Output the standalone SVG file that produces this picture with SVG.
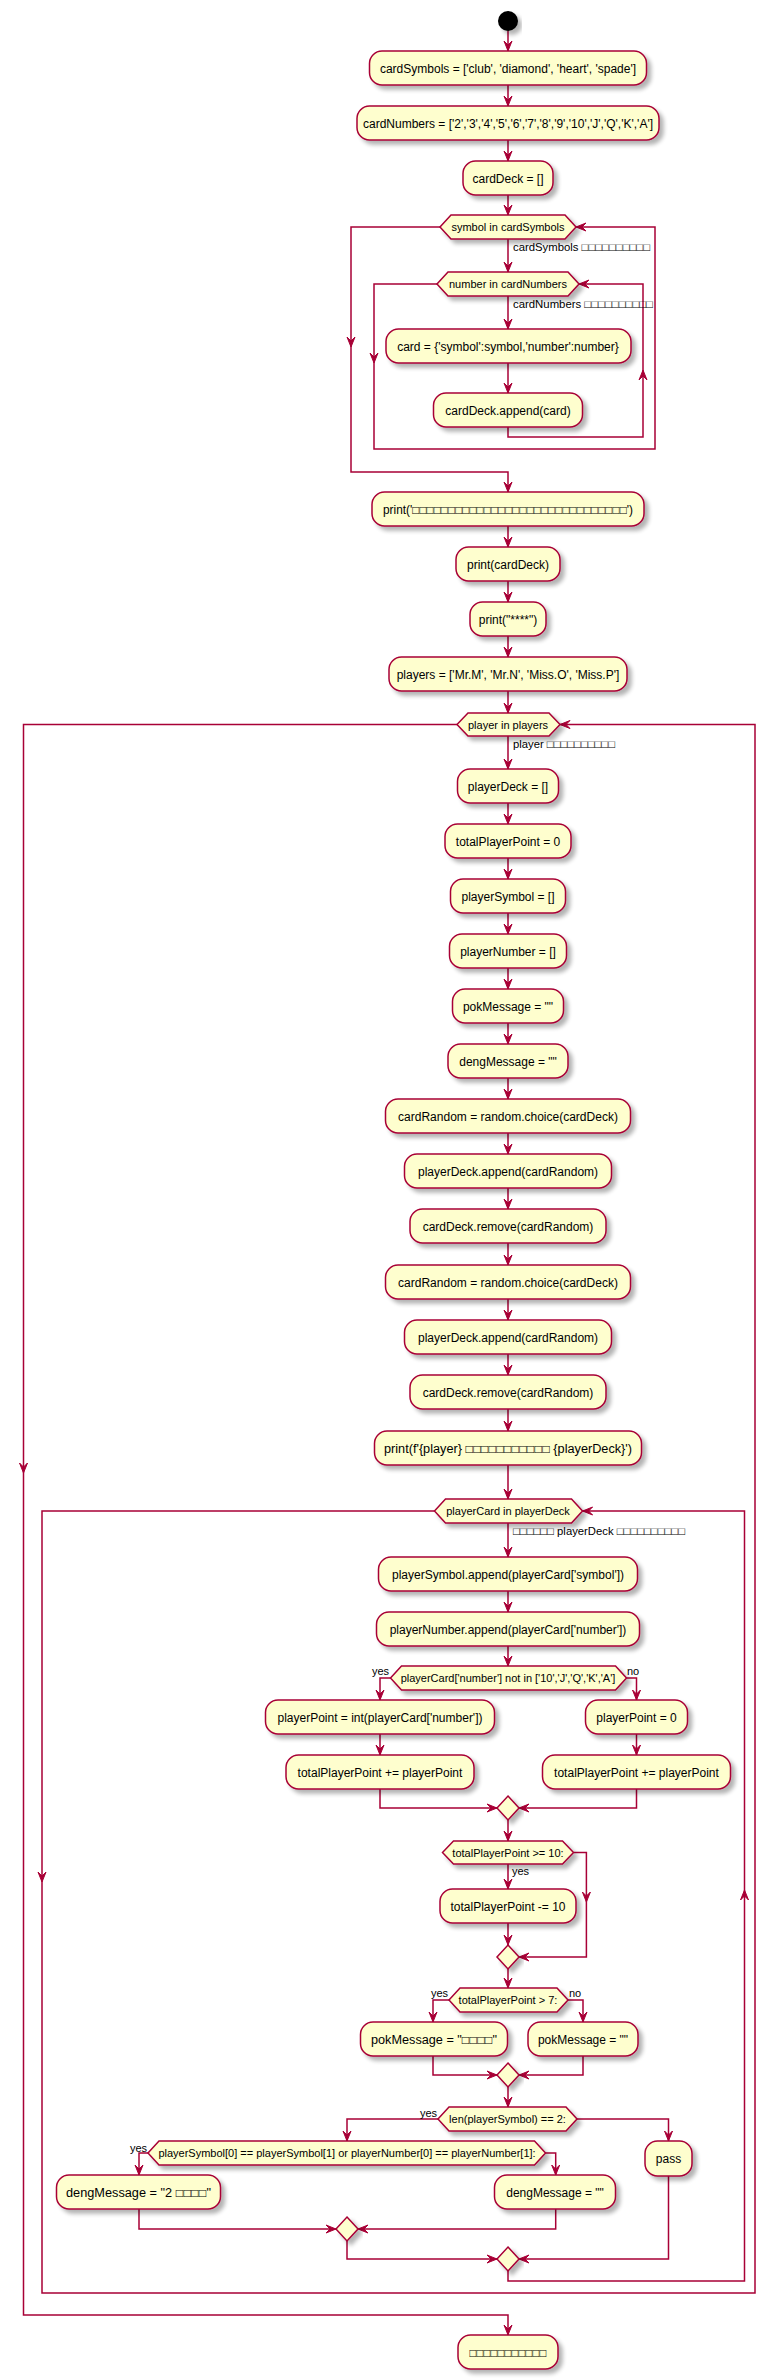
<svg xmlns="http://www.w3.org/2000/svg" xmlns:xlink="http://www.w3.org/1999/xlink" width="769" height="2380" viewBox="0 0 769 2380">
<style>
.b{fill:#FEFECE;stroke:#A80036;stroke-width:1.5;filter:url(#sh)}
.t{font-family:"Liberation Sans",Arial,"DejaVu Sans",sans-serif;font-size:12px;fill:#000;text-anchor:middle}
.h{font-family:"Liberation Sans",Arial,"DejaVu Sans",sans-serif;font-size:11px;fill:#000;text-anchor:middle}
.l{font-family:"Liberation Sans",Arial,"DejaVu Sans",sans-serif;font-size:11px;fill:#000}
.e{text-anchor:end}
.c{fill:none;stroke:#A80036;stroke-width:1.5}
.m{marker-end:url(#a)}
</style>
<defs>
<filter id="sh" x="-10%" y="-20%" width="130%" height="170%">
<feGaussianBlur in="SourceAlpha" stdDeviation="2"/>
<feOffset dx="4" dy="4"/>
<feComponentTransfer><feFuncA type="linear" slope="0.3"/></feComponentTransfer>
<feMerge><feMergeNode/><feMergeNode in="SourceGraphic"/></feMerge>
</filter>
<marker id="a" viewBox="-11 -6 12 12" refX="0" refY="0" markerWidth="12" markerHeight="12" markerUnits="userSpaceOnUse" orient="auto" overflow="visible">
<path d="M0,0 L-10,-4 L-6,0 L-10,4 Z" fill="#A80036" stroke="#A80036" stroke-width="1"/>
</marker>
</defs>
<rect width="769" height="2380" fill="#FFFFFF"/>

<g id="connectors">
<path class="c m" d="M508,31 V51"/>
<path class="c m" d="M508,85 V106"/>
<path class="c m" d="M508,140 V161"/>
<path class="c m" d="M508,195 V215"/>
<path class="c m" d="M508,239 V272"/>
<path class="c m" d="M508,296 V329"/>
<path class="c m" d="M508,363 V393"/>
<path class="c m" d="M508,427 V437 H643 V370"/>
<path class="c m" d="M643,370 V284 H579"/>
<path class="c m" d="M437,284 H374 V363"/>
<path class="c m" d="M374,363 V449 H655 V227 H576"/>
<path class="c m" d="M440,227 H351 V347"/>
<path class="c m" d="M351,347 V472 H508 V492"/>
<path class="c m" d="M508,526 V547"/>
<path class="c m" d="M508,581 V602"/>
<path class="c m" d="M508,636 V657"/>
<path class="c m" d="M508,691 V713"/>
<path class="c m" d="M508,736 V769"/>
<path class="c m" d="M508,803 V824"/>
<path class="c m" d="M508,858 V879"/>
<path class="c m" d="M508,913 V934"/>
<path class="c m" d="M508,968 V989"/>
<path class="c m" d="M508,1023 V1044"/>
<path class="c m" d="M508,1078 V1099"/>
<path class="c m" d="M508,1133 V1154"/>
<path class="c m" d="M508,1188 V1209"/>
<path class="c m" d="M508,1243 V1265"/>
<path class="c m" d="M508,1299 V1320"/>
<path class="c m" d="M508,1354 V1375"/>
<path class="c m" d="M508,1409 V1431"/>
<path class="c m" d="M508,1465 V1499"/>
<path class="c m" d="M508,1523 V1557"/>
<path class="c m" d="M508,1591 V1612"/>
<path class="c m" d="M508,1646 V1666"/>
<path class="c m" d="M390.5,1678 H380 V1700"/>
<path class="c m" d="M626.3,1678 H636.5 V1700"/>
<path class="c m" d="M380,1734 V1755"/>
<path class="c m" d="M636.5,1734 V1755"/>
<path class="c m" d="M380,1789 V1808 H497"/>
<path class="c m" d="M636.5,1789 V1808 H519"/>
<path class="c m" d="M508,1820 V1841"/>
<path class="c m" d="M508,1864 V1889"/>
<path class="c m" d="M573.7,1852.5 H586.4 V1902"/>
<path class="c m" d="M586.4,1902 V1957 H519"/>
<path class="c m" d="M508,1923 V1945"/>
<path class="c m" d="M508,1969 V1988"/>
<path class="c m" d="M449,2000 H433 V2022"/>
<path class="c m" d="M568,2000 H583 V2022"/>
<path class="c m" d="M433,2056 V2075 H497"/>
<path class="c m" d="M583,2056 V2075 H519"/>
<path class="c m" d="M508,2087 V2107"/>
<path class="c m" d="M438,2119 H347 V2141"/>
<path class="c m" d="M577,2119 H668.5 V2141"/>
<path class="c m" d="M148,2153 H139 V2175"/>
<path class="c m" d="M545.4,2153 H555.7 V2175"/>
<path class="c m" d="M139,2209 V2229 H336"/>
<path class="c m" d="M555.7,2209 V2229 H358"/>
<path class="c m" d="M347,2241 V2259 H497"/>
<path class="c m" d="M668.5,2176 V2259 H519"/>
<path class="c m" d="M508,2271 V2281 H744.5 V1890"/>
<path class="c m" d="M744.5,1890 V1511 H582.6"/>
<path class="c m" d="M434.5,1511 H42 V1882"/>
<path class="c m" d="M42,1882 V2293 H755 V724.5 H560"/>
<path class="c m" d="M457,724.5 H23.5 V1473"/>
<path class="c m" d="M23.5,1473 V2315 H508 V2335"/>
</g>

<g id="labels">
<text class="l" x="513" y="251" textLength="137" lengthAdjust="spacingAndGlyphs">cardSymbols □□□□□□□□□□</text>
<text class="l" x="513" y="308" textLength="140" lengthAdjust="spacingAndGlyphs">cardNumbers □□□□□□□□□□</text>
<text class="l" x="513" y="748" textLength="102" lengthAdjust="spacingAndGlyphs">player □□□□□□□□□□</text>
<text class="l" x="513" y="1535" textLength="172" lengthAdjust="spacingAndGlyphs">□□□□□□ playerDeck □□□□□□□□□□</text>
<text class="l e" x="389" y="1675">yes</text>
<text class="l" x="627" y="1675">no</text>
<text class="l" x="512" y="1875">yes</text>
<text class="l e" x="448" y="1997">yes</text>
<text class="l" x="569" y="1997">no</text>
<text class="l e" x="437" y="2117">yes</text>
<text class="l e" x="147" y="2152">yes</text>
</g>

<g id="start"><circle cx="508" cy="21" r="10" fill="#000" filter="url(#sh)"/></g>

<g id="n1"><rect class="b" x="369.5" y="51" width="277" height="34" rx="12.5"/><text class="t" x="508" y="73">cardSymbols = ['club', 'diamond', 'heart', 'spade']</text></g>
<g id="n2"><rect class="b" x="357" y="106" width="302" height="34" rx="12.5"/><text class="t" x="508" y="128">cardNumbers = ['2','3','4','5','6','7','8','9','10','J','Q','K','A']</text></g>
<g id="n3"><rect class="b" x="463" y="161" width="90" height="34" rx="12.5"/><text class="t" x="508" y="183">cardDeck = []</text></g>
<g id="loop1"><polygon class="b" points="440,227 451,215 565,215 576,227 565,239 451,239"/><text class="h" x="508" y="231">symbol in cardSymbols</text></g>
<g id="loop2"><polygon class="b" points="437,284 448,272 568,272 579,284 568,296 448,296"/><text class="h" x="508" y="288">number in cardNumbers</text></g>
<g id="n4"><rect class="b" x="386" y="329" width="245" height="34" rx="12.5"/><text class="t" x="508" y="351">card = {'symbol':symbol,'number':number}</text></g>
<g id="n5"><rect class="b" x="433.5" y="393" width="149" height="34" rx="12.5"/><text class="t" x="508" y="415">cardDeck.append(card)</text></g>
<g id="n6"><rect class="b" x="372" y="492" width="272" height="34" rx="12.5"/><text class="t" x="508" y="514" textLength="250" lengthAdjust="spacingAndGlyphs">print('□□□□□□□□□□□□□□□□□□□□□□□□□□□□□□')</text></g>
<g id="n7"><rect class="b" x="456" y="547" width="104" height="34" rx="12.5"/><text class="t" x="508" y="569">print(cardDeck)</text></g>
<g id="n8"><rect class="b" x="470" y="602" width="76" height="34" rx="12.5"/><text class="t" x="508" y="624">print("****")</text></g>
<g id="n9"><rect class="b" x="389" y="657" width="238" height="34" rx="12.5"/><text class="t" x="508" y="679">players = ['Mr.M', 'Mr.N', 'Miss.O', 'Miss.P']</text></g>
<g id="loop3"><polygon class="b" points="457,724.5 468,713 549,713 560,724.5 549,736 468,736"/><text class="h" x="508" y="728.5">player in players</text></g>
<g id="n10"><rect class="b" x="457.5" y="769" width="101" height="34" rx="12.5"/><text class="t" x="508" y="791">playerDeck = []</text></g>
<g id="n11"><rect class="b" x="445" y="824" width="126" height="34" rx="12.5"/><text class="t" x="508" y="846">totalPlayerPoint = 0</text></g>
<g id="n12"><rect class="b" x="450.5" y="879" width="115" height="34" rx="12.5"/><text class="t" x="508" y="901">playerSymbol = []</text></g>
<g id="n13"><rect class="b" x="449.5" y="934" width="117" height="34" rx="12.5"/><text class="t" x="508" y="956">playerNumber = []</text></g>
<g id="n14"><rect class="b" x="452.5" y="989" width="111" height="34" rx="12.5"/><text class="t" x="508" y="1011">pokMessage = ""</text></g>
<g id="n15"><rect class="b" x="448" y="1044" width="120" height="34" rx="12.5"/><text class="t" x="508" y="1066">dengMessage = ""</text></g>
<g id="n16"><rect class="b" x="385.5" y="1099" width="245" height="34" rx="12.5"/><text class="t" x="508" y="1121">cardRandom = random.choice(cardDeck)</text></g>
<g id="n17"><rect class="b" x="404.5" y="1154" width="207" height="34" rx="12.5"/><text class="t" x="508" y="1176">playerDeck.append(cardRandom)</text></g>
<g id="n18"><rect class="b" x="410" y="1209" width="196" height="34" rx="12.5"/><text class="t" x="508" y="1231">cardDeck.remove(cardRandom)</text></g>
<g id="n19"><rect class="b" x="385.5" y="1265" width="245" height="34" rx="12.5"/><text class="t" x="508" y="1287">cardRandom = random.choice(cardDeck)</text></g>
<g id="n20"><rect class="b" x="404.5" y="1320" width="207" height="34" rx="12.5"/><text class="t" x="508" y="1342">playerDeck.append(cardRandom)</text></g>
<g id="n21"><rect class="b" x="410" y="1375" width="196" height="34" rx="12.5"/><text class="t" x="508" y="1397">cardDeck.remove(cardRandom)</text></g>
<g id="n22"><rect class="b" x="374.5" y="1431" width="267" height="34" rx="12.5"/><text class="t" x="508" y="1453" textLength="248" lengthAdjust="spacingAndGlyphs">print(f'{player} □□□□□□□□□□□ {playerDeck}')</text></g>
<g id="loop4"><polygon class="b" points="434.5,1511 445.5,1499 571.5,1499 582.5,1511 571.5,1523 445.5,1523"/><text class="h" x="508" y="1515">playerCard in playerDeck</text></g>
<g id="n23"><rect class="b" x="378.5" y="1557" width="259" height="34" rx="12.5"/><text class="t" x="508" y="1579">playerSymbol.append(playerCard['symbol'])</text></g>
<g id="n24"><rect class="b" x="376.5" y="1612" width="263" height="34" rx="12.5"/><text class="t" x="508" y="1634">playerNumber.append(playerCard['number'])</text></g>
<g id="if1"><polygon class="b" points="390.5,1678 401.5,1666 615.5,1666 626.5,1678 615.5,1690 401.5,1690"/><text class="h" x="508" y="1682">playerCard['number'] not in ['10','J','Q','K','A']</text></g>
<g id="n25"><rect class="b" x="265.5" y="1700" width="229" height="34" rx="12.5"/><text class="t" x="380" y="1722">playerPoint = int(playerCard['number'])</text></g>
<g id="n26"><rect class="b" x="585.5" y="1700" width="102" height="34" rx="12.5"/><text class="t" x="636.5" y="1722">playerPoint = 0</text></g>
<g id="n27"><rect class="b" x="286" y="1755" width="188" height="34" rx="12.5"/><text class="t" x="380" y="1777">totalPlayerPoint += playerPoint</text></g>
<g id="n28"><rect class="b" x="542.5" y="1755" width="188" height="34" rx="12.5"/><text class="t" x="636.5" y="1777">totalPlayerPoint += playerPoint</text></g>
<g id="merge1"><polygon class="b" points="508,1796 519,1808 508,1820 497,1808"/></g>
<g id="if2"><polygon class="b" points="442.5,1852.5 453.5,1841 562.5,1841 573.5,1852.5 562.5,1864 453.5,1864"/><text class="h" x="508" y="1856.5">totalPlayerPoint &gt;= 10:</text></g>
<g id="n29"><rect class="b" x="440" y="1889" width="136" height="34" rx="12.5"/><text class="t" x="508" y="1911">totalPlayerPoint -= 10</text></g>
<g id="merge2"><polygon class="b" points="508,1945 519,1957 508,1969 497,1957"/></g>
<g id="if3"><polygon class="b" points="449,2000 460,1988 557,1988 568,2000 557,2012 460,2012"/><text class="h" x="508" y="2004">totalPlayerPoint &gt; 7:</text></g>
<g id="n30"><rect class="b" x="360.5" y="2022" width="147" height="34" rx="12.5"/><text class="t" x="434" y="2044" textLength="126" lengthAdjust="spacingAndGlyphs">pokMessage = "□□□□"</text></g>
<g id="n31"><rect class="b" x="528" y="2022" width="110" height="34" rx="12.5"/><text class="t" x="583" y="2044">pokMessage = ""</text></g>
<g id="merge3"><polygon class="b" points="508,2063 519,2075 508,2087 497,2075"/></g>
<g id="if4"><polygon class="b" points="438,2119 449,2107 566,2107 577,2119 566,2131 449,2131"/><text class="h" x="507.5" y="2123">len(playerSymbol) == 2:</text></g>
<g id="if5"><polygon class="b" points="148,2153 159,2141 534.5,2141 545.5,2153 534.5,2165 159,2165"/><text class="h" x="347" y="2157">playerSymbol[0] == playerSymbol[1] or playerNumber[0] == playerNumber[1]:</text></g>
<g id="n32"><rect class="b" x="56.5" y="2175" width="164" height="34" rx="12.5"/><text class="t" x="138.5" y="2197" textLength="145" lengthAdjust="spacingAndGlyphs">dengMessage = "2 □□□□"</text></g>
<g id="n33"><rect class="b" x="494.5" y="2175" width="121" height="34" rx="12.5"/><text class="t" x="555" y="2197">dengMessage = ""</text></g>
<g id="n34"><rect class="b" x="645" y="2141" width="47" height="35" rx="12.5"/><text class="t" x="668.5" y="2163">pass</text></g>
<g id="merge4"><polygon class="b" points="347,2217 358,2229 347,2241 336,2229"/></g>
<g id="merge5"><polygon class="b" points="508,2247 519,2259 508,2271 497,2259"/></g>
<g id="n35"><rect class="b" x="458" y="2335" width="100" height="34" rx="12.5"/><text class="t" x="508" y="2357" textLength="77" lengthAdjust="spacingAndGlyphs">□□□□□□□□□□□</text></g>
</svg>
